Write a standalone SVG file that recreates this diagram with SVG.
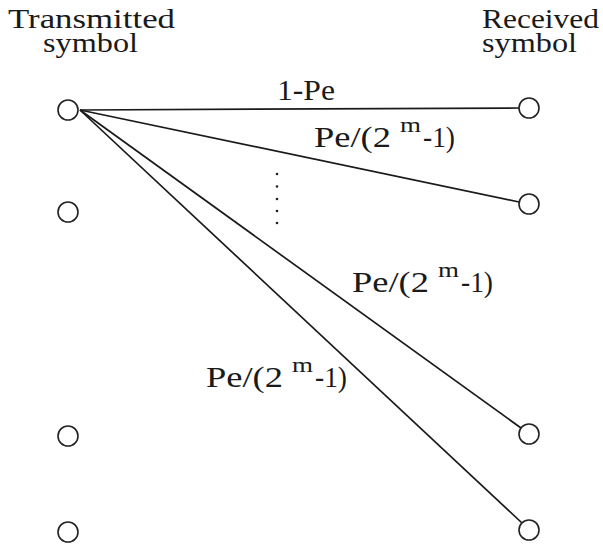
<svg xmlns="http://www.w3.org/2000/svg" width="603" height="545" viewBox="0 0 603 545">
<style>
  .t { font-size: 27px; fill: #1a1a1a; }
  .lb { font-size: 29px; fill: #1a1a1a; }
  .sup { font-size: 20px; }
  .node { fill: #fff; stroke: #222; stroke-width: 1.6; }
  .edge { stroke: #1a1a1a; stroke-width: 1.7; fill: none; }
</style>
<rect width="603" height="545" fill="#fff"/>
<g id="titles" font-family="Liberation Serif, DejaVu Serif, serif">
  <text class="t" x="8" y="28" textLength="167" lengthAdjust="spacingAndGlyphs">Transmitted</text>
  <text class="t" x="43" y="52" textLength="95" lengthAdjust="spacingAndGlyphs">symbol</text>
  <text class="t" x="482" y="28" textLength="117" lengthAdjust="spacingAndGlyphs">Received</text>
  <text class="t" x="482" y="52" textLength="95" lengthAdjust="spacingAndGlyphs">symbol</text>
</g>
<g id="connectors">
  <line class="edge" x1="80" y1="110" x2="519" y2="108"/>
  <line class="edge" x1="80" y1="110" x2="519" y2="202"/>
  <line class="edge" x1="80" y1="110" x2="521" y2="428"/>
  <line class="edge" x1="80" y1="110" x2="522" y2="523"/>
</g>
<g id="tx1"><circle class="node" cx="68" cy="110" r="10"/></g>
<g id="tx2"><circle class="node" cx="68" cy="212" r="10"/></g>
<g id="tx3"><circle class="node" cx="68" cy="436" r="10"/></g>
<g id="tx4"><circle class="node" cx="68" cy="532" r="10"/></g>
<g id="rx1"><circle class="node" cx="529" cy="108" r="10"/></g>
<g id="rx2"><circle class="node" cx="529" cy="204" r="10"/></g>
<g id="rx3"><circle class="node" cx="529" cy="434" r="10"/></g>
<g id="rx4"><circle class="node" cx="529" cy="530" r="10"/></g>
<g id="dots" fill="#222">
  <circle cx="277" cy="174" r="1.3"/>
  <circle cx="277" cy="186.5" r="1.3"/>
  <circle cx="277" cy="199" r="1.3"/>
  <circle cx="277" cy="211" r="1.3"/>
  <circle cx="277" cy="223" r="1.3"/>
</g>
<g id="labels" font-family="Liberation Serif, DejaVu Serif, serif">
  <text class="lb" x="277" y="100" textLength="58" lengthAdjust="spacingAndGlyphs">1-Pe</text>
  <text class="lb" y="147"><tspan x="314" textLength="77" lengthAdjust="spacingAndGlyphs">Pe/(2</tspan><tspan class="sup" x="400" y="132" textLength="21" lengthAdjust="spacingAndGlyphs">m</tspan><tspan x="423" y="147" textLength="32" lengthAdjust="spacingAndGlyphs">-1)</tspan></text>
  <text class="lb" y="292"><tspan x="352" textLength="77" lengthAdjust="spacingAndGlyphs">Pe/(2</tspan><tspan class="sup" x="438" y="277" textLength="21" lengthAdjust="spacingAndGlyphs">m</tspan><tspan x="461" y="292" textLength="32" lengthAdjust="spacingAndGlyphs">-1)</tspan></text>
  <text class="lb" y="387"><tspan x="206" textLength="77" lengthAdjust="spacingAndGlyphs">Pe/(2</tspan><tspan class="sup" x="292" y="372" textLength="21" lengthAdjust="spacingAndGlyphs">m</tspan><tspan x="315" y="387" textLength="32" lengthAdjust="spacingAndGlyphs">-1)</tspan></text>
</g>
</svg>
